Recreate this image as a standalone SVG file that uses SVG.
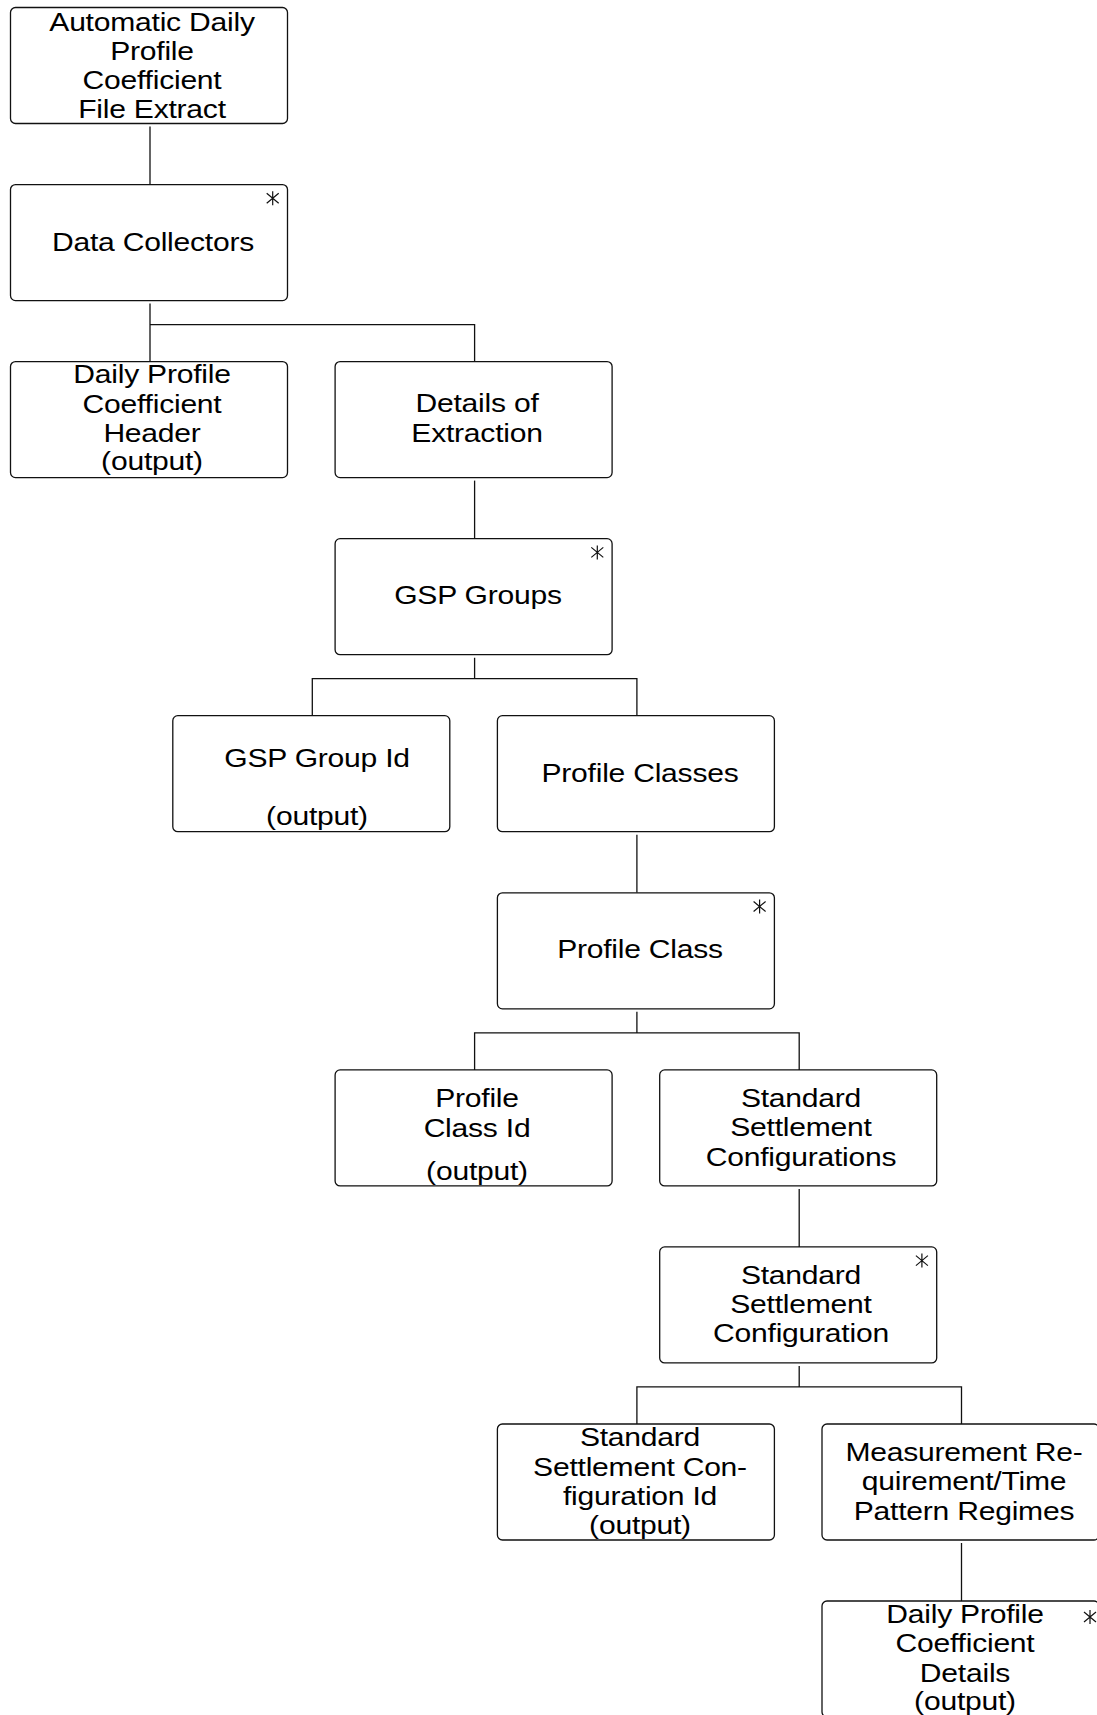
<svg xmlns="http://www.w3.org/2000/svg" xmlns:xlink="http://www.w3.org/1999/xlink" width="1097" height="1715" viewBox="0 0 1097 1715">
<style>
.box{fill:#fff;stroke:#111;stroke-width:1.3}
.lbl{font-family:"Liberation Sans",Arial,sans-serif;font-size:25.5px;fill:#000;text-anchor:middle;letter-spacing:-0.2px}
.con{fill:none;stroke:#111;stroke-width:1.3}
.ast{fill:none;stroke:#111;stroke-width:1.2}
</style>
<defs>
<path id="star" class="ast" d="M0 -7V7M-6 -5L6 5M-6 5L6 -5"/>
</defs>
<rect width="1097" height="1715" fill="#fff"/>
<g id="connectors">
<path class="con" d="M150 126.5V184.6"/>
<path class="con" d="M150 303.6V361.6M150 324.6H474.6V361.6"/>
<path class="con" d="M474.6 480.6V538.7"/>
<path class="con" d="M474.6 657.7V678.7M312.3 715.7V678.7H636.9V715.7"/>
<path class="con" d="M636.9 834.7V892.8"/>
<path class="con" d="M636.9 1011.8V1032.8M474.6 1069.9V1032.8H799.2V1069.9"/>
<path class="con" d="M799.2 1188.9V1246.9"/>
<path class="con" d="M799.2 1365.9V1386.9M636.9 1424V1386.9H961.5V1424"/>
<path class="con" d="M961.5 1543V1601"/>
</g>
<g id="n1">
<rect class="box" x="10.5" y="7.5" width="277" height="116" rx="5"/>
<text class="lbl" transform="translate(152,0) scale(1.18,1)"><tspan x="0" y="30.7">Automatic Daily</tspan><tspan x="0" y="60">Profile</tspan><tspan x="0" y="89.3">Coefficient</tspan><tspan x="0" y="118.3">File Extract</tspan></text>
</g>
<g id="n2">
<rect class="box" x="10.5" y="184.6" width="277" height="116" rx="5"/>
<use xlink:href="#star" x="272.7" y="198.3"/>
<text class="lbl" transform="translate(153,0) scale(1.18,1)"><tspan x="0" y="250.6">Data Collectors</tspan></text>
</g>
<g id="n3">
<rect class="box" x="10.5" y="361.6" width="277" height="116" rx="5"/>
<text class="lbl" transform="translate(152,0) scale(1.18,1)"><tspan x="0" y="383.3">Daily Profile</tspan><tspan x="0" y="412.6">Coefficient</tspan><tspan x="0" y="441.6">Header</tspan><tspan x="0" y="470">(output)</tspan></text>
</g>
<g id="n4">
<rect class="box" x="335.1" y="361.6" width="277" height="116" rx="5"/>
<text class="lbl" transform="translate(477,0) scale(1.18,1)"><tspan x="0" y="412.3">Details of</tspan><tspan x="0" y="441.6">Extraction</tspan></text>
</g>
<g id="n5">
<rect class="box" x="335.1" y="538.7" width="277" height="116" rx="5"/>
<use xlink:href="#star" x="597.3" y="552.4"/>
<text class="lbl" transform="translate(478,0) scale(1.18,1)"><tspan x="0" y="604.3">GSP Groups</tspan></text>
</g>
<g id="n6">
<rect class="box" x="172.8" y="715.7" width="277" height="116" rx="5"/>
<text class="lbl" transform="translate(317,0) scale(1.18,1)"><tspan x="0" y="766.7">GSP Group Id</tspan><tspan x="0" y="825">(output)</tspan></text>
</g>
<g id="n7">
<rect class="box" x="497.4" y="715.7" width="277" height="116" rx="5"/>
<text class="lbl" transform="translate(640,0) scale(1.18,1)"><tspan x="0" y="781.7">Profile Classes</tspan></text>
</g>
<g id="n8">
<rect class="box" x="497.4" y="892.8" width="277" height="116" rx="5"/>
<use xlink:href="#star" x="759.6" y="906.5"/>
<text class="lbl" transform="translate(640,0) scale(1.18,1)"><tspan x="0" y="958.3">Profile Class</tspan></text>
</g>
<g id="n9">
<rect class="box" x="335.1" y="1069.9" width="277" height="116" rx="5"/>
<text class="lbl" transform="translate(477,0) scale(1.18,1)"><tspan x="0" y="1107.3">Profile</tspan><tspan x="0" y="1136.6">Class Id</tspan><tspan x="0" y="1180">(output)</tspan></text>
</g>
<g id="n10">
<rect class="box" x="659.7" y="1069.9" width="277" height="116" rx="5"/>
<text class="lbl" transform="translate(801,0) scale(1.18,1)"><tspan x="0" y="1107.3">Standard</tspan><tspan x="0" y="1136.5">Settlement</tspan><tspan x="0" y="1165.6">Configurations</tspan></text>
</g>
<g id="n11">
<rect class="box" x="659.7" y="1246.9" width="277" height="116" rx="5"/>
<use xlink:href="#star" x="921.9" y="1260.6"/>
<text class="lbl" transform="translate(801,0) scale(1.18,1)"><tspan x="0" y="1284">Standard</tspan><tspan x="0" y="1313.2">Settlement</tspan><tspan x="0" y="1342.4">Configuration</tspan></text>
</g>
<g id="n12">
<rect class="box" x="497.4" y="1424" width="277" height="116" rx="5"/>
<text class="lbl" transform="translate(640,0) scale(1.18,1)"><tspan x="0" y="1445.6">Standard</tspan><tspan x="0" y="1475.8">Settlement Con-</tspan><tspan x="0" y="1504.8">figuration Id</tspan><tspan x="0" y="1533.8">(output)</tspan></text>
</g>
<g id="n13">
<rect class="box" x="822" y="1424" width="277" height="116" rx="5"/>
<text class="lbl" transform="translate(964,0) scale(1.18,1)"><tspan x="0" y="1461">Measurement Re-</tspan><tspan x="0" y="1490.5">quirement/Time</tspan><tspan x="0" y="1520">Pattern Regimes</tspan></text>
</g>
<g id="n14">
<rect class="box" x="822" y="1601" width="277" height="116" rx="5"/>
<use xlink:href="#star" x="1090" y="1617"/>
<text class="lbl" transform="translate(965,0) scale(1.18,1)"><tspan x="0" y="1623.3">Daily Profile</tspan><tspan x="0" y="1652.5">Coefficient</tspan><tspan x="0" y="1681.6">Details</tspan><tspan x="0" y="1710">(output)</tspan></text>
</g>
</svg>
